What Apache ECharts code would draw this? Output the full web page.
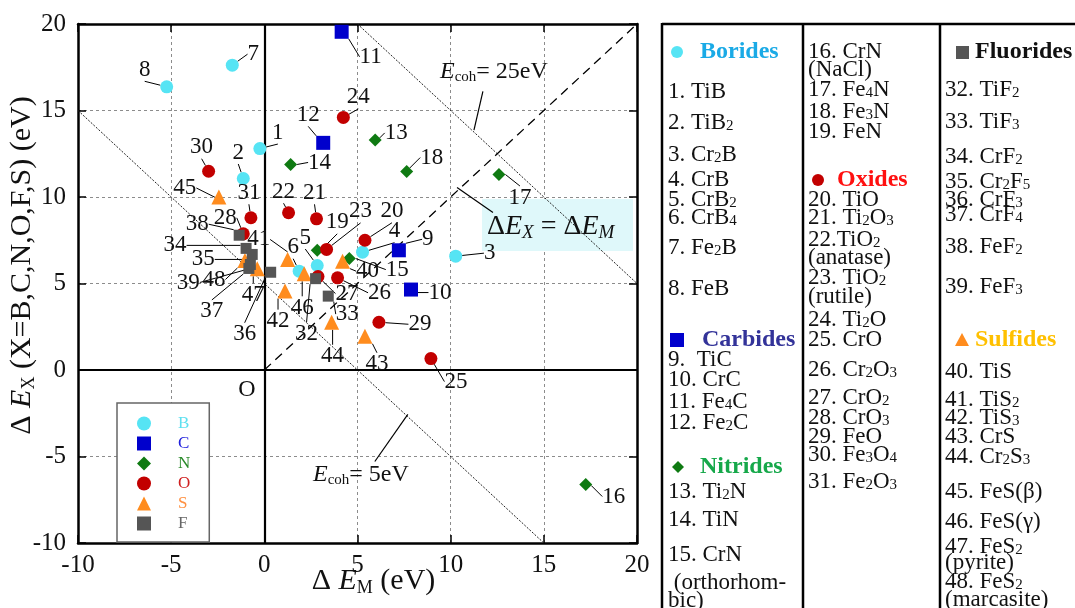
<!DOCTYPE html>
<html>
<head>
<meta charset="utf-8">
<script src="https://cdn.jsdelivr.net/npm/echarts@6/dist/echarts.min.js"></script>
<style>
html, body { margin: 0; padding: 0; background: #fff; }
#chart { width: 1075px; height: 608px; }
</style>
</head>
<body>
<div id="chart"></div>
<script>
const SERIF = '"Liberation Serif", "DejaVu Serif", "Times New Roman", serif';

// Compound numbers, ΔE_M and ΔE_X (eV) for each class
const boridesNo = [1, 2, 3, 4, 5, 6, 7, 8];
const boridesEM = [-0.24, -1.13, 10.27, 5.27, 2.84, 1.87, -1.72, -5.24];
const boridesEX = [12.8, 11.07, 6.58, 6.81, 6.04, 5.71, 17.62, 16.37];

const carbidesNo = [9, 10, 11, 12];
const carbidesEM = [7.22, 7.87, 4.15, 3.16];
const carbidesEX = [6.92, 4.65, 19.55, 13.13];

const nitridesNo = [13, 14, 15, 16, 17, 18, 19];
const nitridesEM = [5.95, 1.41, 4.56, 17.25, 12.59, 7.64, 2.84];
const nitridesEX = [13.3, 11.88, 6.44, -6.62, 11.3, 11.47, 6.92];

const oxidesNo = [20, 21, 22, 23, 24, 25, 26, 27, 28, 29, 30, 31];
const oxidesEM = [5.40, 2.80, 1.30, 3.34, 4.24, 8.94, 3.93, 2.88, -1.13, 6.15, -2.99, -0.72];
const oxidesEX = [7.50, 8.74, 9.09, 6.97, 14.6, 0.66, 5.33, 5.40, 7.87, 2.76, 11.49, 8.80];

const sulfidesNo = [40, 41, 42, 43, 44, 45, 46, 47, 48];
const sulfidesEM = [4.20, 1.25, 1.11, 5.40, 3.61, -2.44, 2.14, -0.38, -1.04];
const sulfidesEX = [6.29, 6.39, 4.56, 1.95, 2.76, 10.0, 5.56, 5.85, 6.33];

const fluoridesNo = [32, 33, 34, 35, 36, 37, 38, 39];
const fluoridesEM = [2.75, 3.43, -0.98, -0.65, 0.34, -0.83, -1.35, -0.75];
const fluoridesEX = [5.28, 4.27, 7.03, 6.68, 5.65, 5.87, 7.79, 6.10];

// Cohesive-energy reference lines: ΔE_M + ΔE_X = E_coh
const ecohLevels = [5, 25];
const axisTicks = [-10, -5, 0, 5, 10, 15, 20];

// Where each number label sits relative to its marker (px)
const labelShift = {
  1: [18, -16], 2: [-5, -26], 3: [34, -3], 4: [32, -21], 5: [-12, -28], 6: [-6, -24],
  7: [21, -11], 8: [-22, -17], 9: [29, -11], 10: [29, 3], 11: [29, 25], 12: [-15, -28],
  13: [21, -7], 14: [29, -2], 15: [48, 11], 16: [28, 12], 17: [21, 23], 18: [25, -14],
  19: [20, -28], 20: [27, -29], 21: [-2, -26], 22: [-5, -21], 23: [34, -38], 24: [15, -20],
  25: [25, 23], 26: [42, 15], 27: [29, 17], 28: [-18, -16], 29: [41, 2], 30: [-7, -24],
  31: [-2, -25], 32: [-9, 55], 33: [19, 18], 34: [-71, -3], 35: [-49, 5], 36: [-26, 62],
  37: [-37, 43], 38: [-42, -11], 39: [-62, 18], 40: [25, 10], 41: [-29, -20], 42: [-7, 30],
  43: [12, 28], 44: [1, 34], 45: [-34, -9], 46: [-2, 34], 47: [-4, 26], 48: [-31, 19]
};

const lo = axisTicks[0], hi = axisTicks[axisTicks.length - 1];
function ecohLine(E) {
  const x1 = Math.max(lo, E - hi), x2 = Math.min(hi, E - lo);
  return [[x1, E - x1], [x2, E - x2]];
}

function classSeries(name, nos, em, ex, symbol, size, color) {
  return {
    name: name,
    type: 'scatter',
    symbol: symbol,
    symbolSize: size,
    itemStyle: { color: color, opacity: 1 },
    z: 5,
    data: nos.map((n, i) => [em[i], ex[i], n]),
    encode: { x: 0, y: 1 },
    label: {
      show: true,
      position: 'inside',
      formatter: p => String(p.data[2]),
      fontFamily: SERIF,
      fontSize: 23,
      color: '#111'
    },
    labelLine: { show: true, length2: 0, lineStyle: { color: '#000', width: 1 } },
    labelLayout: p => {
      const s = labelShift[p.text];
      return s ? { dx: s[0], dy: s[1] } : {};
    },
    emphasis: { disabled: true }
  };
}

const subRich = (size, lh) => ({ fontFamily: SERIF, fontSize: size, lineHeight: lh, verticalAlign: 'bottom' });

const chart = echarts.init(document.getElementById('chart'));

const axisCommon = {
  type: 'value', min: lo, max: hi, interval: 5,
  axisLine: { show: true, onZero: false, lineStyle: { color: '#000', width: 2.5 } },
  axisTick: { show: true, inside: true, length: 8, lineStyle: { color: '#000', width: 1.5 } }
};

const series = [
  // E_coh lines
  ...ecohLevels.map(E => ({
    type: 'line', data: ecohLine(E), symbol: 'none', silent: true, z: 2,
    lineStyle: { color: '#222', width: 1, type: [2, 1.5] }
  })),
  // ΔE_X = ΔE_M
  {
    type: 'line', data: [[0, 0], [hi, hi]], symbol: 'none', silent: true, z: 2,
    lineStyle: { color: '#000', width: 1.3, type: [9, 6] },
    markLine: {
      silent: true, symbol: ['none', 'none'], label: { show: false },
      lineStyle: { color: '#000', width: 2.2, type: 'solid' },
      data: [{ xAxis: 0 }, { yAxis: 0 }]
    }
  },
  // annotation leaders
  {
    type: 'line', data: [], silent: true, z: 2,
    markLine: {
      silent: true, symbol: ['none', 'none'], label: { show: false },
      lineStyle: { color: '#000', width: 1.2, type: 'solid' },
      data: [
        [{ coord: [11.73, 16.1] }, { coord: [11.25, 13.87] }],
        [{ coord: [5.93, -5.29] }, { coord: [7.70, -2.57] }],
        [{ coord: [10.34, 10.55] }, { coord: [12.27, 9.10] }]
      ]
    }
  },
  classSeries('B', boridesNo, boridesEM, boridesEX, 'circle', 13, '#56e4f4'),
  classSeries('C', carbidesNo, carbidesEM, carbidesEX, 'rect', 14, '#0000cc'),
  classSeries('N', nitridesNo, nitridesEM, nitridesEX, 'diamond', 13, '#0f7a12'),
  classSeries('O', oxidesNo, oxidesEM, oxidesEX, 'circle', 13, '#c20000'),
  classSeries('S', sulfidesNo, sulfidesEM, sulfidesEX, 'triangle', 15, '#ff8c1e'),
  classSeries('F', fluoridesNo, fluoridesEM, fluoridesEX, 'rect', 11, '#555555')
];

// Right-hand table of compounds
const tableFont = 23;
const tableRich = { s: subRich(15, 10) };
const col1 = [
  ['1. TiB', 92], ['2. TiB{s|2}', 123], ['3. Cr{s|2}B', 155], ['4. CrB', 180],
  ['5. CrB{s|2}', 200], ['6. CrB{s|4}', 218], ['7. Fe{s|2}B', 248], ['8. FeB', 289],
  ['9.  TiC', 360], ['10. CrC', 380], ['11. Fe{s|4}C', 402], ['12. Fe{s|2}C', 423],
  ['13. Ti{s|2}N', 492], ['14. TiN', 520], ['15. CrN', 555], [' (orthorhom-', 583], ['bic)', 601]
];
const col2 = [
  ['16. CrN', 52], ['(NaCl)', 70], ['17. Fe{s|4}N', 90], ['18. Fe{s|3}N', 112], ['19. FeN', 132],
  ['20. TiO', 200], ['21. Ti{s|2}O{s|3}', 218], ['22.TiO{s|2}', 240], ['(anatase)', 258],
  ['23. TiO{s|2}', 278], ['(rutile)', 297], ['24. Ti{s|2}O', 320], ['25. CrO', 340],
  ['26. Cr{s|2}O{s|3}', 370], ['27. CrO{s|2}', 398], ['28. CrO{s|3}', 418], ['29. FeO', 437],
  ['30. Fe{s|3}O{s|4}', 455], ['31. Fe{s|2}O{s|3}', 482]
];
const col3 = [
  ['32. TiF{s|2}', 90], ['33. TiF{s|3}', 122], ['34. CrF{s|2}', 157], ['35. Cr{s|2}F{s|5}', 182],
  ['36. CrF{s|3}', 200], ['37. CrF{s|4}', 215], ['38. FeF{s|2}', 247], ['39. FeF{s|3}', 287],
  ['40. TiS', 372], ['41. TiS{s|2}', 400], ['42. TiS{s|3}', 418], ['43. CrS', 437],
  ['44. Cr{s|2}S{s|3}', 457], ['45. FeS(β)', 492], ['46. FeS(γ)', 522], ['47. FeS{s|2}', 547],
  ['(pyrite)', 563], ['48. FeS{s|2}', 582], ['(marcasite)', 600]
];
const headers = [
  ['Borides', 700, 52, '#1aaae6'], ['Carbides', 702, 340, '#333399'], ['Nitrides', 700, 467, '#16a84a'],
  ['Oxides', 837, 180, '#ff1010'], ['Fluorides', 975, 52, '#111111'], ['Sulfides', 975, 340, '#ffc000']
];

function tableText(x, rows) {
  return rows.map(r => ({
    type: 'text', x: x, y: r[1], silent: true,
    style: {
      text: r[0], fontFamily: SERIF, fontSize: tableFont, lineHeight: 22,
      fill: '#111', verticalAlign: 'middle', rich: tableRich
    }
  }));
}

const graphic = [
  // table rules
  { type: 'line', silent: true, shape: { x1: 662, y1: 24, x2: 1075, y2: 24 }, style: { stroke: '#000', lineWidth: 2.5 } },
  { type: 'line', silent: true, shape: { x1: 662, y1: 23, x2: 662, y2: 608 }, style: { stroke: '#000', lineWidth: 2.5 } },
  { type: 'line', silent: true, shape: { x1: 803, y1: 23, x2: 803, y2: 608 }, style: { stroke: '#000', lineWidth: 2.5 } },
  { type: 'line', silent: true, shape: { x1: 940, y1: 23, x2: 940, y2: 608 }, style: { stroke: '#000', lineWidth: 2.5 } },
  ...tableText(668, col1),
  ...tableText(808, col2),
  ...tableText(945, col3),
  ...headers.map(h => ({
    type: 'text', x: h[1], y: h[2], silent: true,
    style: { text: h[0], fontFamily: SERIF, fontSize: 24, fontWeight: 'bold', fill: h[3], verticalAlign: 'middle' }
  })),
  // header markers
  { type: 'circle', silent: true, shape: { cx: 677, cy: 52, r: 6 }, style: { fill: '#56e4f4' } },
  { type: 'rect', silent: true, shape: { x: 670, y: 333, width: 14, height: 14 }, style: { fill: '#0000cc' } },
  { type: 'polygon', silent: true, shape: { points: [[678, 461], [684, 467], [678, 473], [672, 467]] }, style: { fill: '#0f7a12' } },
  { type: 'circle', silent: true, shape: { cx: 818, cy: 180, r: 6 }, style: { fill: '#c20000' } },
  { type: 'rect', silent: true, shape: { x: 956, y: 46, width: 13, height: 13 }, style: { fill: '#555555' } },
  { type: 'polygon', silent: true, shape: { points: [[962, 333], [969, 346], [955, 346]] }, style: { fill: '#ff8c1e' } },

  // annotations inside the plot
  {
    type: 'text', x: 440, y: 72, silent: true, z: 10,
    style: {
      text: '{e|E}{s|coh}= 25eV', fontFamily: SERIF, fontSize: 24, lineHeight: 26, fill: '#111',
      verticalAlign: 'middle',
      rich: { e: { fontFamily: SERIF, fontSize: 24, fontStyle: 'italic', lineHeight: 26 }, s: subRich(15, 10) }
    }
  },
  {
    type: 'text', x: 313, y: 475, silent: true, z: 10,
    style: {
      text: '{e|E}{s|coh}= 5eV', fontFamily: SERIF, fontSize: 24, lineHeight: 26, fill: '#111',
      verticalAlign: 'middle',
      rich: { e: { fontFamily: SERIF, fontSize: 24, fontStyle: 'italic', lineHeight: 26 }, s: subRich(15, 10) }
    }
  },
  {
    type: 'text', x: 247, y: 390, silent: true, z: 10,
    style: { text: 'O', fontFamily: SERIF, fontSize: 24, fill: '#111', align: 'center', verticalAlign: 'middle' }
  },
  {
    type: 'rect', silent: true, z: 1, shape: { x: 482, y: 199, width: 151, height: 52 },
    style: { fill: '#dff8fa' }
  },
  {
    type: 'text', x: 487, y: 227, silent: true, z: 10,
    style: {
      text: 'Δ{e|E}{x|X} = Δ{e|E}{x|M}', fontFamily: SERIF, fontSize: 28, lineHeight: 30, fill: '#111',
      verticalAlign: 'middle',
      rich: {
        e: { fontFamily: SERIF, fontSize: 28, fontStyle: 'italic', lineHeight: 30 },
        x: { fontFamily: SERIF, fontSize: 19, fontStyle: 'italic', lineHeight: 14, verticalAlign: 'bottom' }
      }
    }
  }
];

chart.setOption({
  backgroundColor: '#fff',
  animation: false,
  grid: { left: 78, top: 24, width: 559, height: 519, containLabel: false, outerBoundsMode: 'none' },
  legend: {
    orient: 'vertical', left: 117, top: 403,
    data: [
      { name: 'B', textStyle: { color: '#5ee0f0' } },
      { name: 'C', textStyle: { color: '#2020dd' } },
      { name: 'N', textStyle: { color: '#2a8a2a' } },
      { name: 'O', textStyle: { color: '#d02020' } },
      { name: 'S', textStyle: { color: '#ff9040' } },
      { name: 'F', textStyle: { color: '#666666' } }
    ],
    itemWidth: 14, itemHeight: 14, itemGap: 3,
    padding: [12, 19, 10, 20],
    borderColor: '#666', borderWidth: 1.5, backgroundColor: '#fff',
    selectedMode: false,
    textStyle: { fontFamily: SERIF, fontSize: 17, padding: [0, 0, 0, 22] }
  },
  xAxis: [
    Object.assign({}, axisCommon, {
      position: 'bottom',
      axisLabel: { fontFamily: SERIF, fontSize: 25, color: '#111', margin: 10 },
      splitLine: { show: true, lineStyle: { color: '#8c8c8c', width: 1, type: [3, 3] } },
      name: '{d|Δ }{e|E}{s|M}{d| (eV)}', nameLocation: 'middle', nameGap: 22, nameMoveOverlap: false,
      nameTextStyle: {
        fontFamily: SERIF, fontSize: 30, color: '#111', padding: [0, 0, 0, 32],
        rich: {
          d: { fontFamily: SERIF, fontSize: 30, lineHeight: 32 },
          e: { fontFamily: SERIF, fontSize: 30, fontStyle: 'italic', lineHeight: 32 },
          s: subRich(18, 8)
        }
      }
    }),
    Object.assign({}, axisCommon, {
      position: 'top', axisLabel: { show: false }, splitLine: { show: false }
    })
  ],
  yAxis: [
    Object.assign({}, axisCommon, {
      position: 'left',
      axisLabel: { fontFamily: SERIF, fontSize: 25, color: '#111', margin: 12 },
      splitLine: { show: true, lineStyle: { color: '#8c8c8c', width: 1, type: [3, 3] } },
      name: '{d|Δ }{e|E}{s|X}{d| (X=B,C,N,O,F,S) (eV)}', nameLocation: 'middle', nameGap: 40, nameMoveOverlap: false,
      nameTextStyle: {
        fontFamily: SERIF, fontSize: 30, color: '#111', padding: [0, 0, 0, 36],
        rich: {
          d: { fontFamily: SERIF, fontSize: 30, lineHeight: 32 },
          e: { fontFamily: SERIF, fontSize: 30, fontStyle: 'italic', lineHeight: 32 },
          s: subRich(18, 8)
        }
      }
    }),
    Object.assign({}, axisCommon, {
      position: 'right', axisLabel: { show: false }, splitLine: { show: false }
    })
  ],
  series: series,
  graphic: graphic
});
</script>
</body>
</html>
